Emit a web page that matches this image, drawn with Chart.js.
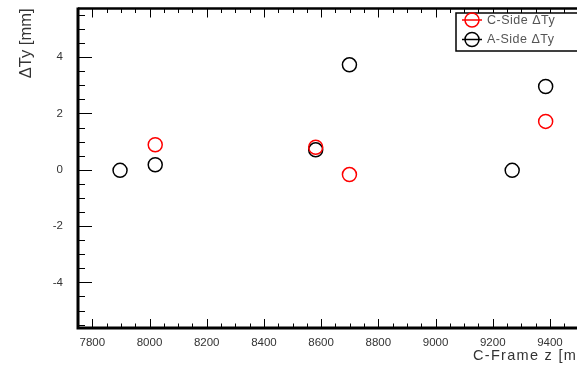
<!DOCTYPE html>
<html>
<head>
<meta charset="utf-8">
<script src="https://cdn.jsdelivr.net/npm/chart.js@4/dist/chart.umd.min.js"></script>
<style>
  html, body { margin: 0; padding: 0; background: #fff; overflow: hidden; }
  #wrap { width: 577px; height: 372px; overflow: hidden; }
  canvas { display: block; }
</style>
</head>
<body>
<div id="wrap"><canvas id="c" width="620" height="372"></canvas></div>
<script>
// ---- data ----
const cSideZ  = [8020, 8581, 8699, 9385];
const cSideDy = [0.89, 0.80, -0.17, 1.72];
const aSideZ  = [7897, 8020, 8581, 8699, 9268, 9385];
const aSideDy = [-0.02, 0.18, 0.71, 3.73, -0.02, 2.96];
const xTickLabels = [7800, 8000, 8200, 8400, 8600, 8800, 9000, 9200, 9400];
const yTickLabels = [-4, -2, 0, 2, 4];
const seriesNames = ['C-Side \u0394Ty', 'A-Side \u0394Ty'];
const xTitle = 'C-Frame z [mm]';
const yTitle = '\u0394Ty [mm]';

const X_MIN = 7750, X_MAX = 9575, Y_MIN = -5.62, Y_MAX = 5.73;
const FONT = '"Liberation Sans", Arial, sans-serif';

function pts(xs, ys) { return xs.map((x, i) => ({ x: x, y: ys[i] })); }

const framePlugin = {
  id: 'rootFrame',
  beforeDatasetsDraw(chart) {
    const { ctx, chartArea: a, scales: { x, y } } = chart;
    ctx.save();
    ctx.strokeStyle = '#000';
    ctx.lineWidth = 1;
    ctx.beginPath();
    for (let v = -5.5; v <= 5.5 + 1e-9; v += 0.5) {
      const p = Math.round(y.getPixelForValue(v)) + 0.5;
      const major = Math.abs(v % 2) < 1e-9;
      const len = major ? 14 : 7;
      ctx.moveTo(a.left, p); ctx.lineTo(a.left + len, p);
      ctx.moveTo(a.right, p); ctx.lineTo(a.right - len, p);
    }
    for (let v = 7750; v <= X_MAX; v += 50) {
      const p = Math.round(x.getPixelForValue(v)) + 0.5;
      const major = (v % 200) === 0;
      const len = major ? 9 : 4.5;
      ctx.moveTo(p, a.bottom); ctx.lineTo(p, a.bottom - len);
      ctx.moveTo(p, a.top); ctx.lineTo(p, a.top + len);
    }
    ctx.stroke();
    ctx.lineWidth = 3;
    ctx.beginPath();
    ctx.moveTo(a.left, a.top - 1); ctx.lineTo(a.left, a.bottom + 1.5);
    ctx.moveTo(a.left - 1.5, a.bottom); ctx.lineTo(a.right + 1.5, a.bottom);
    ctx.moveTo(a.right, a.top); ctx.lineTo(a.right, a.bottom);
    ctx.stroke();
    ctx.lineWidth = 2.5;
    ctx.beginPath();
    ctx.moveTo(a.left, a.top); ctx.lineTo(a.right, a.top);
    ctx.stroke();
    ctx.restore();
  },
  afterDatasetsDraw(chart) {
    const { ctx } = chart;
    const bx = 456, by = 13, bw = 170, bh = 38;
    ctx.save();
    ctx.fillStyle = '#fff';
    ctx.fillRect(bx, by, bw, bh);
    ctx.strokeStyle = '#000';
    ctx.lineWidth = 1.5;
    ctx.strokeRect(bx, by, bw, bh);
    chart.data.datasets.forEach((ds, i) => {
      const cy = by + 7 + i * 19.5;
      const cx = 472;
      ctx.strokeStyle = ds.borderColor;
      ctx.lineWidth = 1.5;
      ctx.beginPath();
      ctx.moveTo(cx - 10, cy); ctx.lineTo(cx + 10, cy);
      ctx.stroke();
      ctx.beginPath();
      ctx.arc(cx, cy, 7, 0, Math.PI * 2);
      ctx.stroke();
      ctx.fillStyle = '#555';
      ctx.font = '12.5px ' + FONT;
      ctx.letterSpacing = '0.5px';
      ctx.textAlign = 'left';
      ctx.textBaseline = 'middle';
      ctx.fillText(ds.label, 487, cy + 0.5);
    });
    // x axis title (left-anchored like the original, clipped at the right)
    ctx.fillStyle = '#333';
    ctx.font = '14.5px ' + FONT;
    ctx.letterSpacing = '1.3px';
    ctx.textAlign = 'left';
    ctx.textBaseline = 'middle';
    ctx.fillText(xTitle, 473, 356);
    ctx.restore();
  }
};

new Chart(document.getElementById('c'), {
  type: 'scatter',
  data: {
    datasets: [
      { label: seriesNames[0], data: pts(cSideZ, cSideDy), borderColor: '#ff0000', backgroundColor: 'rgba(0,0,0,0)',
        pointRadius: 7, pointBorderWidth: 1.5, pointHoverRadius: 7, showLine: false },
      { label: seriesNames[1], data: pts(aSideZ, aSideDy), borderColor: '#000000', backgroundColor: 'rgba(0,0,0,0)',
        pointRadius: 7, pointBorderWidth: 1.5, pointHoverRadius: 7, showLine: false }
    ]
  },
  options: {
    responsive: false,
    animation: false,
    events: [],
    layout: { padding: { left: 0, top: 7, right: 20, bottom: 0 } },
    plugins: { legend: { display: false }, tooltip: { enabled: false } },
    scales: {
      x: {
        type: 'linear', min: X_MIN, max: X_MAX,
        grid: { display: false, drawTicks: false },
        border: { display: false },
        afterBuildTicks: s => { s.ticks = xTickLabels.map(v => ({ value: v })); },
        afterFit: s => { s.height = 44; s.paddingLeft = 0; s.paddingRight = 0; },
        ticks: { padding: 8, color: '#333', font: { family: FONT, size: 11.5 },
                 maxRotation: 0, autoSkip: false, callback: v => String(v) }
      },
      y: {
        type: 'linear', min: Y_MIN, max: Y_MAX,
        grid: { display: false, drawTicks: false },
        border: { display: false },
        afterBuildTicks: s => { s.ticks = yTickLabels.map(v => ({ value: v })); },
        afterFit: s => { s.width = 78; s.paddingTop = 0; s.paddingBottom = 0; },
        ticks: { padding: 15, color: '#333', font: { family: FONT, size: 11.5 },
                 autoSkip: false, callback: v => String(v) },
        title: { display: true, text: yTitle, align: 'end', color: '#333',
                 font: { family: FONT, size: 16.5 }, padding: { top: 17, bottom: 0 } }
      }
    }
  },
  plugins: [framePlugin]
});
</script>
</body>
</html>
